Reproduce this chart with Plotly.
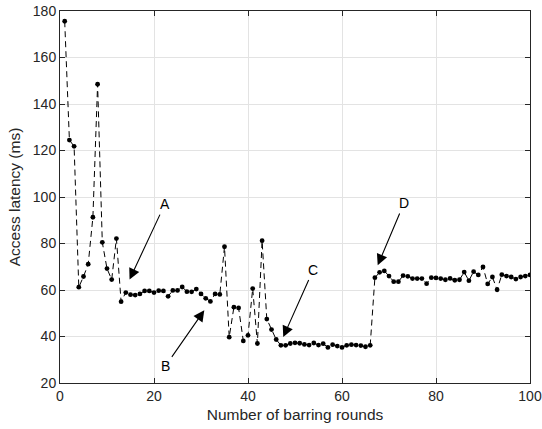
import plotly.graph_objects as go

rounds = list(range(1, 101))
latency_ms = [
    175.6, 124.5, 121.8, 61.2, 65.8, 71.1, 91.3, 148.5, 80.5, 69.2,
    64.5, 82.1, 55.0, 58.9, 58.0, 57.8, 58.3, 59.6, 59.6, 58.9,
    59.7, 59.6, 57.3, 59.8, 59.8, 61.3, 59.3, 59.2, 60.4, 58.3,
    56.4, 55.1, 58.3, 58.1, 78.6, 39.7, 52.6, 52.3, 38.1, 40.5,
    60.6, 37.0, 81.2, 47.5, 43.0, 38.7, 36.2, 36.2, 37.0, 37.3,
    37.1, 36.6, 36.3, 37.2, 36.3, 36.9, 35.3, 36.5, 35.9, 35.3,
    36.2, 36.5, 36.3, 36.1, 35.6, 36.2, 65.3, 67.6, 68.2, 66.0,
    63.6, 63.6, 66.2, 65.9, 64.9, 64.9, 64.9, 62.7, 65.3, 65.2,
    64.9, 64.4, 65.0, 64.2, 64.4, 67.7, 64.0, 67.9, 66.5, 69.9,
    62.6, 65.6, 60.1, 66.6, 66.0, 65.6, 64.7, 65.6, 66.0, 66.5,
]

x_ticks = [0, 20, 40, 60, 80, 100]
y_ticks = [20, 40, 60, 80, 100, 120, 140, 160, 180]

# annotation labels: (text, arrow head x, head y, text x, text y)
labels = ["A", "B", "C", "D"]
head_x = [14.8, 30.7, 47.5, 67.6]
head_y = [64.5, 51.3, 39.8, 70.6]
text_x = [22.3, 22.4, 53.9, 73.2]
text_y = [96.9, 27.2, 68.8, 97.4]

AX = "#262626"
FONT = "Liberation Sans, Arial, Helvetica, sans-serif"

fig = go.Figure()
fig.add_trace(go.Scatter(
    x=rounds, y=latency_ms, mode="lines+markers",
    line=dict(color="black", width=1, dash="6px,4px"),
    marker=dict(color="black", size=4.8),
    showlegend=False,
))

for t, hx, hy, tx, ty in zip(labels, head_x, head_y, text_x, text_y):
    fig.add_annotation(
        x=hx, y=hy, ax=tx, ay=ty, xref="x", yref="y", axref="x", ayref="y",
        text=t, showarrow=True, arrowhead=2, arrowsize=2.0, arrowwidth=1.1,
        arrowcolor="black", standoff=0, startstandoff=1,
        font=dict(family=FONT, size=14, color="black"),
    )

axis_common = dict(
    showline=True, linecolor=AX, linewidth=1, mirror="ticks",
    ticks="inside", ticklen=5, tickcolor=AX, tickwidth=1,
    showgrid=True, gridcolor="#e3e3e3", gridwidth=1, zeroline=False,
    tickfont=dict(family=FONT, size=14, color=AX), automargin=False,
)

fig.update_xaxes(range=[0, 100], tickvals=x_ticks,
                 title=dict(text="Number of barring rounds",
                            font=dict(family=FONT, size=15.5, color=AX), standoff=6),
                 **axis_common)
fig.update_yaxes(range=[20, 180], tickvals=y_ticks,
                 title=dict(text="Access latency (ms)",
                            font=dict(family=FONT, size=15.5, color=AX), standoff=8),
                 **axis_common)

fig.update_layout(
    width=542, height=429,
    margin=dict(l=59.5, r=11.5, t=11, b=46),
    plot_bgcolor="white", paper_bgcolor="white",
    font=dict(family=FONT, color=AX),
)

fig.write_html(
    "out.html",
    config={"displayModeBar": False},
    post_script="document.body.style.margin='0px';document.body.style.overflow='hidden';",
)
